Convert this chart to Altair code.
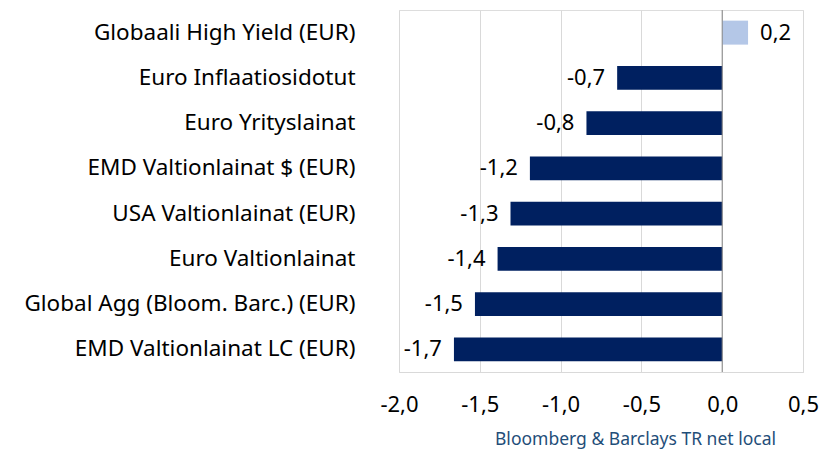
import altair as alt
import pandas as pd

categories = [
    "Globaali High Yield (EUR)",
    "Euro Inflaatiosidotut",
    "Euro Yrityslainat",
    "EMD Valtionlainat $ (EUR)",
    "USA Valtionlainat (EUR)",
    "Euro Valtionlainat",
    "Global Agg (Bloom. Barc.) (EUR)",
    "EMD Valtionlainat LC (EUR)",
]
values = [0.16, -0.65, -0.84, -1.19, -1.31, -1.39, -1.53, -1.66]
x_ticks = [-2.0, -1.5, -1.0, -0.5, 0.0, 0.5]
axis_title = "Bloomberg & Barclays TR net local"

df = pd.DataFrame({"cat": categories, "v": values})

FONT = "Noto Sans"
NAVY = "#002060"
LIGHT = "#B4C7E7"

label_expr = "replace(replace(format(datum.value, '.1f'), '.', ','), '\u2212', '-')"

x_scale = alt.Scale(domain=[-2.0, 0.5], nice=False, zero=False)
y_scale = alt.Scale(domain=categories, paddingInner=0.47, paddingOuter=0.235)

base = alt.Chart(df).transform_calculate(
    lbl="replace(replace(format(datum.v, '.1f'), '.', ','), '\u2212', '-')"
)

bars = base.mark_bar().encode(
    x=alt.X(
        "v:Q",
        scale=x_scale,
        axis=alt.Axis(
            values=x_ticks,
            labelExpr=label_expr,
            title=axis_title,
            grid=True,
            gridColor="#D9D9D9",
            domainColor="#D9D9D9",
            ticks=False,
            labelFont=FONT,
            labelFontSize=22,
            labelColor="#000000",
            labelPadding=22,
            labelFlush=False,
            titleFont=FONT,
            titleFontSize=17.5,
            titleFontWeight="normal",
            titleColor="#1F4E79",
            titleX=236,
            titleY=58,
            titleAlign="center",
        ),
    ),
    y=alt.Y(
        "cat:N",
        scale=y_scale,
        sort=categories,
        axis=alt.Axis(
            title=None,
            domain=False,
            ticks=False,
            labelFont=FONT,
            labelFontSize=22.5,
            labelColor="#000000",
            labelPadding=44,
            labelLimit=0,
            grid=False,
        ),
    ),
    x2=alt.datum(0),
    color=alt.condition("datum.v > 0", alt.value(LIGHT), alt.value(NAVY)),
)

zero = alt.Chart(pd.DataFrame({"z": [0.0]})).mark_rule(color="#868686", strokeWidth=1).encode(
    x=alt.X("z:Q", scale=x_scale)
)

pos_text = base.transform_filter("datum.v > 0").mark_text(
    align="left", dx=12, font=FONT, fontSize=22, color="#000000"
).encode(
    x=alt.X("v:Q", scale=x_scale),
    y=alt.Y("cat:N", scale=y_scale, sort=categories),
    text="lbl:N",
)

neg_text = base.transform_filter("datum.v <= 0").mark_text(
    align="right", dx=-12, font=FONT, fontSize=22, color="#000000"
).encode(
    x=alt.X("v:Q", scale=x_scale),
    y=alt.Y("cat:N", scale=y_scale, sort=categories),
    text="lbl:N",
)

chart = (
    alt.layer(bars, zero, pos_text, neg_text)
    .properties(
        width=404,
        height=362,
        autosize=alt.AutoSizeParams(type="none"),
        padding={"left": 391, "top": 2, "right": 19, "bottom": 78},
    )
    .configure_view(stroke=None)
    .configure(background="#FFFFFF")
)

chart.save("out.html", embed_options={"renderer": "svg", "actions": False})
